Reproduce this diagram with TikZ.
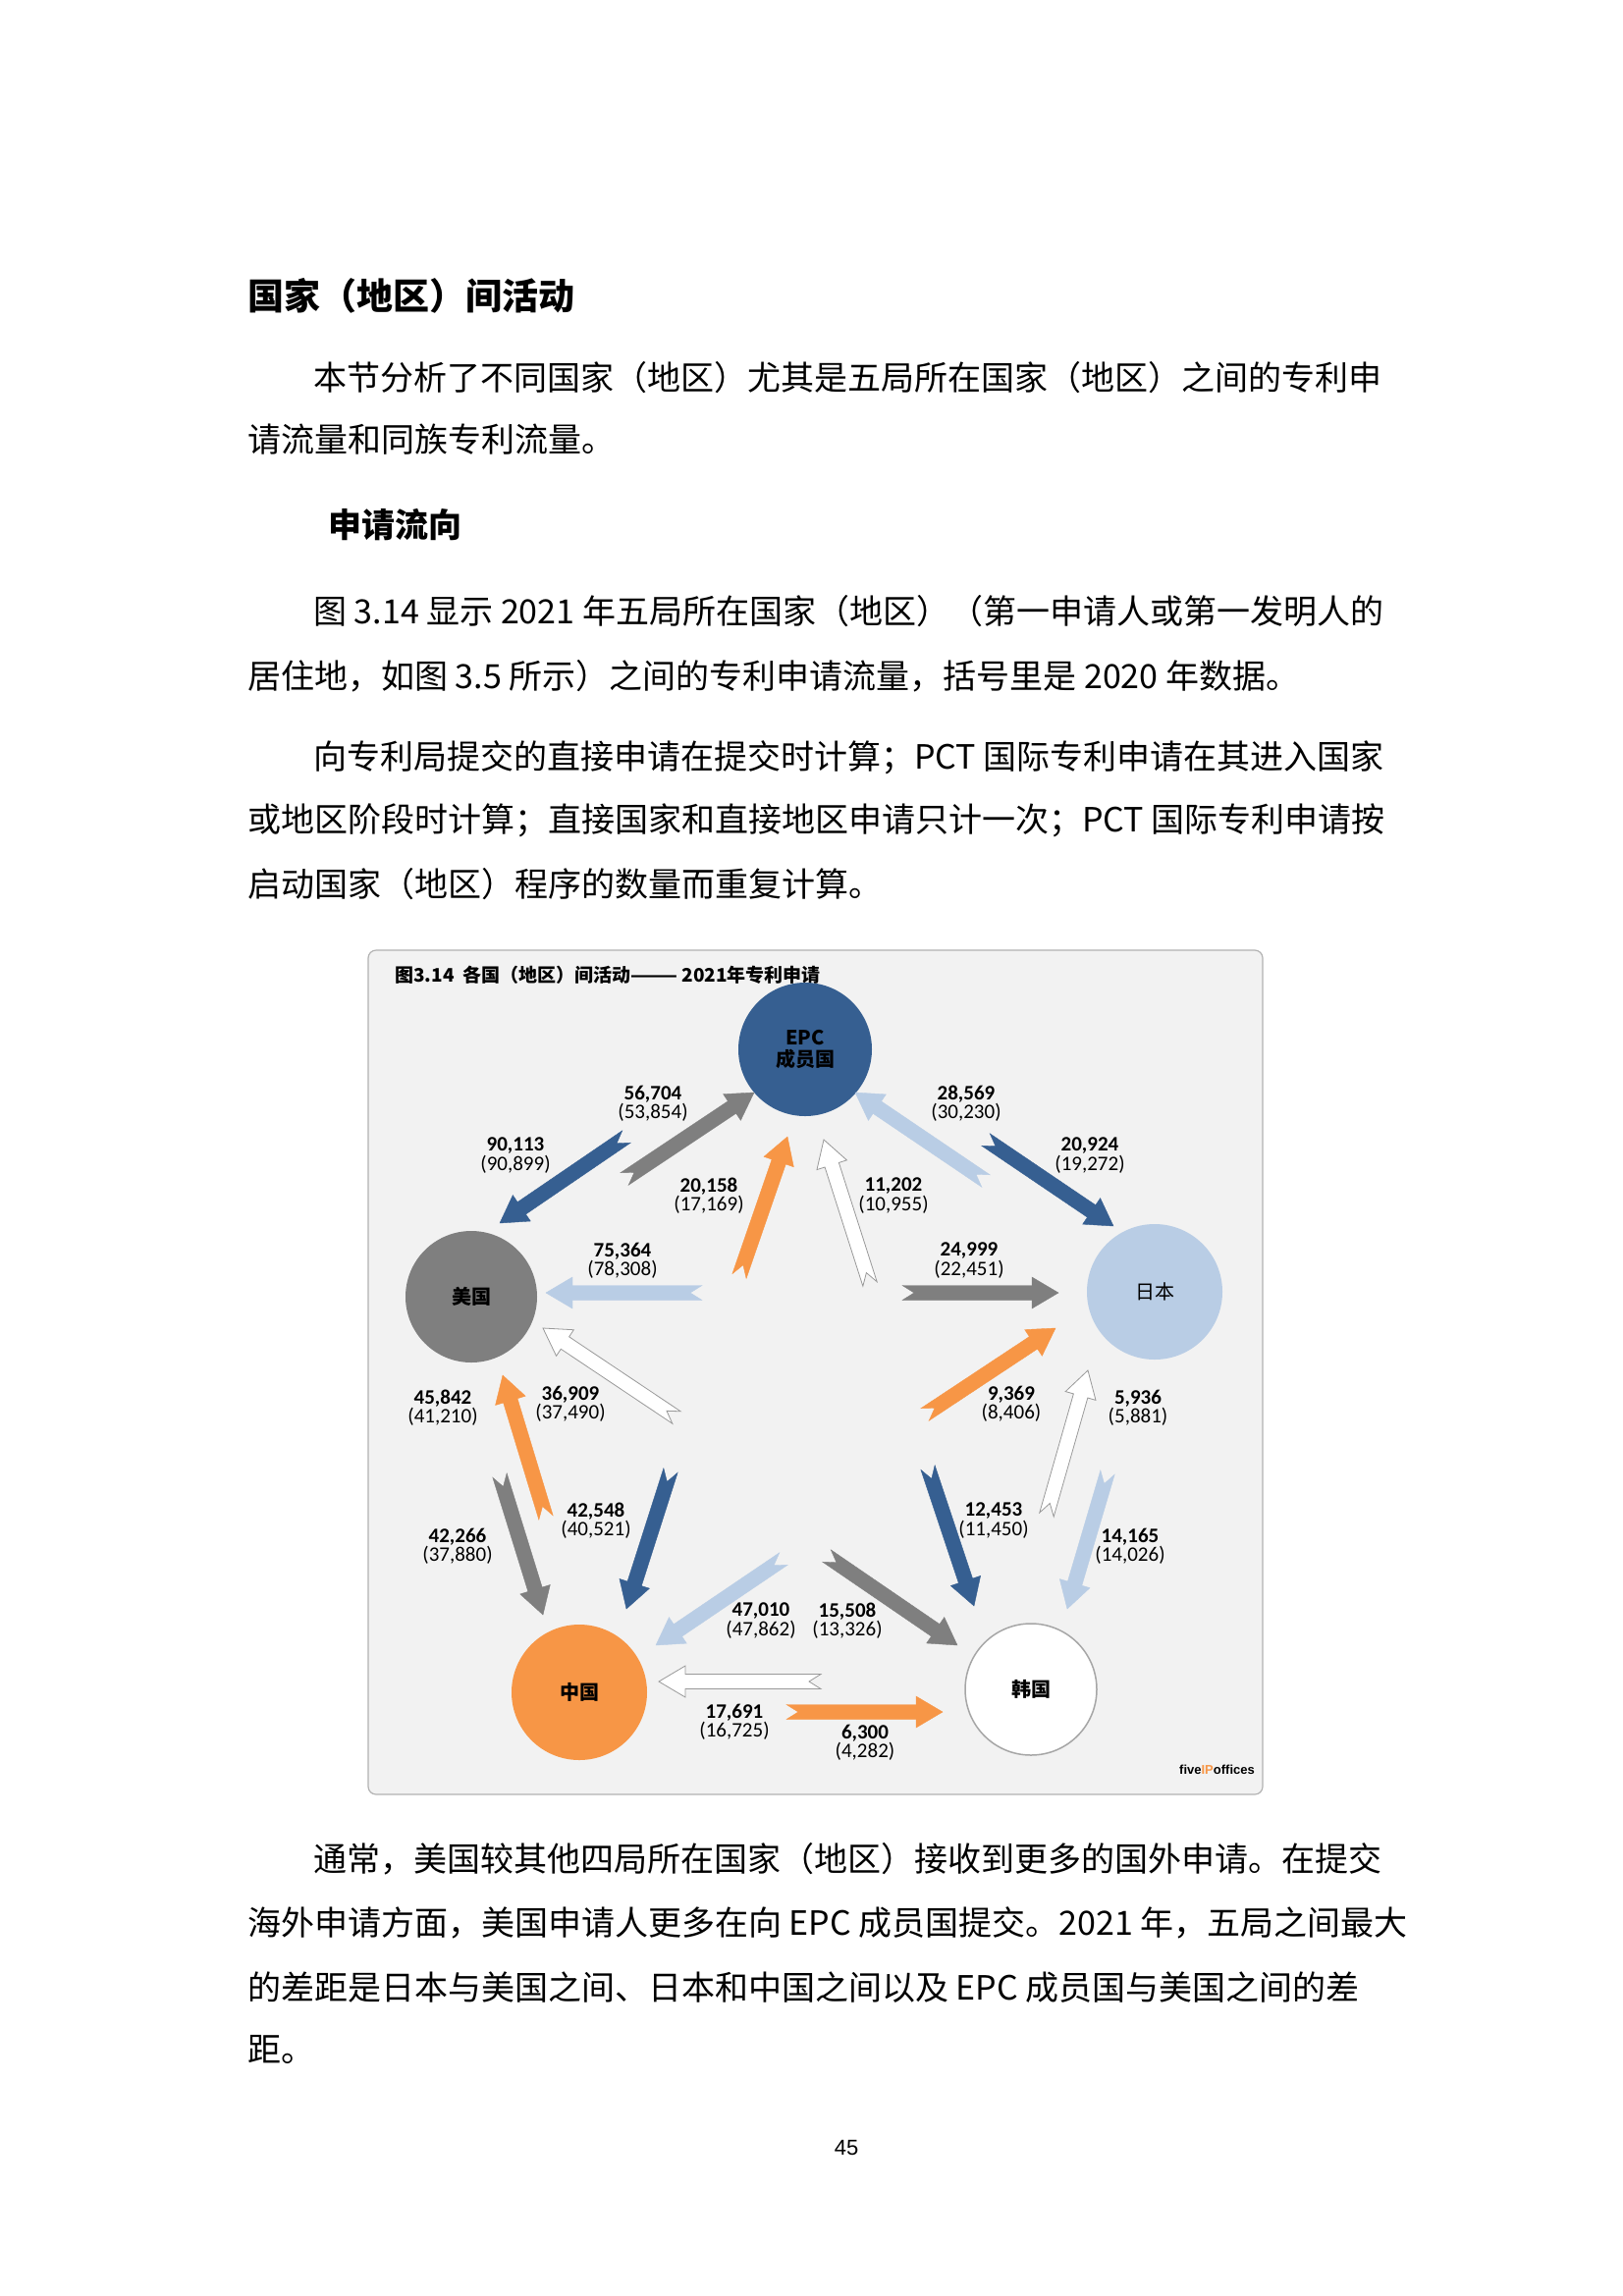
\documentclass[tikz,border=0pt]{standalone}
\usepackage{fontspec}
\usetikzlibrary{calc}
\setmainfont{Liberation Serif}
\newfontfamily\cjk{Noto Sans CJK SC}
\newfontfamily\lblf{Carlito}
\newfontfamily\pnf{Liberation Sans}
\definecolor{cDB}{HTML}{365F91}
\definecolor{cG}{HTML}{7F7F7F}
\definecolor{cO}{HTML}{F79646}
\definecolor{cL}{HTML}{B9CDE5}
\definecolor{cBG}{HTML}{F2F2F2}
\newcommand\farrow[3]{%
 \coordinate (fa) at (#1); \coordinate (fb) at (#2);
 \coordinate (fh) at ($(fb)!27pt!(fa)$);
 \filldraw[#3] ($(fa)!7.5pt!90:(fb)$) -- ($(fh)!7.5pt!90:(fb)$) -- ($(fh)!16pt!90:(fb)$) -- (fb) -- ($(fh)!16pt!-90:(fb)$) -- ($(fh)!7.5pt!-90:(fb)$) -- ($(fa)!7.5pt!-90:(fb)$) -- ($(fa)!12pt!(fb)$) -- cycle;}
\newcommand\bodyfont{\cjk\fontsize{34}{40}\selectfont}
\newcommand\nl[3]{\node[anchor=west,inner sep=0] (#1) at (#2) {\bodyfont #3};}
\tikzset{
 ab/.style={fill=cDB,draw=cDB},
 ag/.style={fill=cG,draw=cG},
 ao/.style={fill=cO,draw=cO},
 al/.style={fill=cL,draw=cL},
 aw/.style={fill=white,draw=gray!80,line width=0.8pt},
 lbl/.style={align=center,inner sep=0,font=\lblf\fontsize{21}{18}\selectfont},
 circ/.style={circle,inner sep=0,align=center,font=\cjk\bfseries\fontsize{20}{22}\selectfont}
}
\begin{document}
\begin{tikzpicture}[x=1pt,y=-1pt]
\useasboundingbox[fill=white] (0,0) rectangle (1653,2339);
\node[anchor=west,inner sep=0] (h1) at (252,301) {\cjk\bfseries\fontsize{37}{40}\selectfont 国家（地区）间活动};
\nl{p1a}{319,385}{本节分析了不同国家（地区）尤其是五局所在国家（地区）之间的专利申}
\nl{p1b}{252,448}{请流量和同族专利流量。}
\node[anchor=west,inner sep=0] (h2) at (334,535) {\cjk\bfseries\fontsize{34}{40}\selectfont 申请流向};
\nl{p2a}{319,623}{图 3.14 显示 2021 年五局所在国家（地区）（第一申请人或第一发明人的}
\nl{p2b}{252,689}{居住地，如图 3.5 所示）之间的专利申请流量，括号里是 2020 年数据。}
\nl{p3a}{319,772}{向专利局提交的直接申请在提交时计算；PCT 国际专利申请在其进入国家}
\nl{p3b}{252,836}{或地区阶段时计算；直接国家和直接地区申请只计一次；PCT 国际专利申请按}
\nl{p3c}{252,901}{启动国家（地区）程序的数量而重复计算。}
\nl{p4a}{319,1894}{通常，美国较其他四局所在国家（地区）接收到更多的国外申请。在提交}
\nl{p4b}{252,1959}{海外申请方面，美国申请人更多在向 EPC 成员国提交。2021 年，五局之间最大}
\nl{p4c}{252,2025}{的差距是日本与美国之间、日本和中国之间以及 EPC 成员国与美国之间的差}
\nl{p4d}{252,2088}{距。}
\node[inner sep=0] (pn) at (862,2188) {\pnf\fontsize{22}{24}\selectfont 45};
% frame
\draw[fill=cBG,draw=gray!60,line width=1.2pt,rounded corners=8pt] (375,968) rectangle (1286,1828);
\node[anchor=west,inner sep=0] (ttl) at (402,993) {\cjk\bfseries\fontsize{19}{20}\selectfont 图3.14\ \ 各国（地区）间活动———\ 2021年专利申请};
% circles
\node[circ,fill=cDB,minimum size=136pt] (epc) at (820,1069) {EPC\\成员国};
\node[circ,fill=cG,minimum size=134pt] (us) at (480,1321) {美国};
\node[circ,fill=cL,minimum size=138pt] (jp) at (1176,1316) {\mdseries 日本};
\node[circ,fill=cO,minimum size=138pt] (cn) at (590,1724) {中国};
\node[circ,fill=white,draw=gray!70,line width=1.5pt,minimum size=134pt] (kr) at (1050,1721) {韩国};
% arrows
\farrow{638,1158}{509,1246}{ab}
\farrow{636,1201}{768,1113}{ag}
\farrow{753,1300}{802,1158}{ao}
\farrow{886,1308}{839,1161}{aw}
\farrow{1004,1203}{871,1113}{al}
\farrow{1004,1161}{1134,1249}{ab}
\farrow{715,1317}{556,1317}{al}
\farrow{919,1317}{1078,1317}{ag}
\farrow{689,1444}{553,1353}{aw}
\farrow{942,1441}{1075,1353}{ao}
\farrow{556,1546}{512,1401}{ao}
\farrow{509,1503}{553,1645}{ag}
\farrow{683,1498}{638,1639}{ab}
\farrow{945,1495}{992,1636}{ab}
\farrow{1066,1543}{1108,1396}{aw}
\farrow{1128,1500}{1087,1639}{al}
\farrow{798,1588}{668,1676}{al}
\farrow{842,1585}{975,1676}{ag}
\farrow{836,1713}{671,1713}{aw}
\farrow{801,1744}{960,1744}{ao}
% labels
\node[lbl] (l1) at (525,1177) {\textbf{90,113}\\(90,899)};
\node[lbl] (l2) at (665,1124) {\textbf{56,704}\\(53,854)};
\node[lbl] (l3) at (722,1218) {\textbf{20,158}\\(17,169)};
\node[lbl] (l4) at (910,1218) {\textbf{11,202}\\(10,955)};
\node[lbl] (l5) at (984,1124) {\textbf{28,569}\\(30,230)};
\node[lbl] (l6) at (1110,1177) {\textbf{20,924}\\(19,272)};
\node[lbl] (l7) at (634,1284) {\textbf{75,364}\\(78,308)};
\node[lbl] (l8) at (987,1284) {\textbf{24,999}\\(22,451)};
\node[lbl] (l9) at (581,1430) {\textbf{36,909}\\(37,490)};
\node[lbl] (l10) at (1030,1430) {\textbf{9,369}\\(8,406)};
\node[lbl] (l11) at (451,1434) {\textbf{45,842}\\(41,210)};
\node[lbl] (l12) at (1159,1434) {\textbf{5,936}\\(5,881)};
\node[lbl] (l13) at (607,1549) {\textbf{42,548}\\(40,521)};
\node[lbl] (l14) at (1012,1549) {\textbf{12,453}\\(11,450)};
\node[lbl] (l15) at (466,1575) {\textbf{42,266}\\(37,880)};
\node[lbl] (l16) at (1151,1575) {\textbf{14,165}\\(14,026)};
\node[lbl] (l17) at (775,1651) {\textbf{47,010}\\(47,862)};
\node[lbl] (l18) at (863,1651) {\textbf{15,508}\\(13,326)};
\node[lbl] (l19) at (748,1754) {\textbf{17,691}\\(16,725)};
\node[lbl] (l20) at (881,1775) {\textbf{6,300}\\(4,282)};
\node[anchor=east,inner sep=0] (logo) at (1278,1803) {\pnf\bfseries\fontsize{13}{13}\selectfont five\textcolor{cO}{IP}offices};
\end{tikzpicture}
\end{document}
